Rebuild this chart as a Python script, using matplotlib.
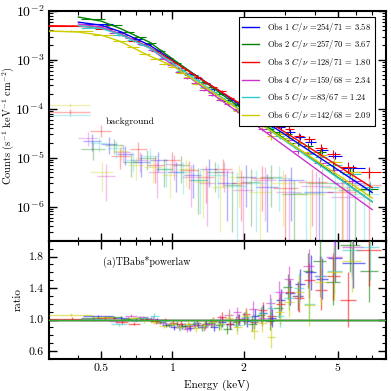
import numpy as np
import matplotlib
matplotlib.use('Agg')
import matplotlib.pyplot as plt
from matplotlib.ticker import FixedLocator, FixedFormatter, LogLocator, MultipleLocator, NullFormatter

plt.rcParams['font.family'] = 'serif'
plt.rcParams['font.serif'] = ['cmr10', 'DejaVu Serif']
plt.rcParams['mathtext.fontset'] = 'cm'
plt.rcParams['axes.formatter.use_mathtext'] = True

colors = ['#0000ff', '#008000', '#ff0000', '#cc33cc', '#33cccc', '#cccc00']
labels = [r'Obs 1 $C/\nu$ =254/71 = 3.58',
          r'Obs 2 $C/\nu$ =257/70 = 3.67',
          r'Obs 3 $C/\nu$ =128/71 = 1.80',
          r'Obs 4 $C/\nu$ =159/68 = 2.34',
          r'Obs 5 $C/\nu$ =83/67 = 1.24',
          r'Obs 6 $C/\nu$ =142/68 = 2.09']

model_e = [0.3, 0.4, 0.5, 0.6, 0.8, 1.0, 1.5, 2.0, 3.0, 5.0, 7.0]
model_start = [0.4, 0.4, 0.3, 0.4, 0.4, 0.3]
model_1 = [5.9e-3, 5.9e-3, 5.1e-3, 3.8e-3, 2.0e-3, 1.0e-3, 2.72e-4, 1.08e-4, 2.95e-5, 5.7e-6, 1.95e-6]
model_2 = [7.5e-3, 7.5e-3, 6.2e-3, 4.4e-3, 2.3e-3, 1.05e-3, 2.57e-4, 9.5e-5, 2.35e-5, 4.0e-6, 1.26e-6]
model_3 = [5.0e-3, 4.9e-3, 4.5e-3, 3.4e-3, 1.8e-3, 9.5e-4, 2.75e-4, 1.15e-4, 3.3e-5, 6.9e-6, 2.45e-6]
model_4 = [5.4e-3, 5.4e-3, 4.7e-3, 3.4e-3, 1.75e-3, 7.9e-4, 1.9e-4, 7.1e-5, 1.7e-5, 2.8e-6, 8.7e-7]
model_5 = [5.0e-3, 5.0e-3, 4.4e-3, 3.3e-3, 1.75e-3, 8.7e-4, 2.2e-4, 8.5e-5, 2.2e-5, 3.9e-6, 1.26e-6]
model_6 = [3.9e-3, 3.7e-3, 3.2e-3, 2.4e-3, 1.2e-3, 7.6e-4, 2.1e-4, 8.3e-5, 2.3e-5, 4.5e-6, 1.5e-6]

# source spectra: bin edges (keV), data/model ratio and its error
edges_1 = [0.42, 0.56, 0.66, 0.74, 0.82, 0.90, 0.98, 1.06, 1.14, 1.23, 1.33, 1.44, 1.56, 1.69,
           1.83, 1.98, 2.14, 2.32, 2.52, 2.75, 3.00, 3.30, 3.65, 4.05, 4.55, 5.20, 6.50]
ratio_1 = [1.04, 1.02, 1.00, 1.01, 0.99, 0.93, 0.90, 0.92, 0.89, 0.93, 0.95, 0.91, 0.97,
           0.94, 1.00, 0.98, 1.04, 1.08, 1.02, 1.25, 1.34, 1.45, 1.60, 1.52, 1.78, 1.72]
rerr_1 = [0.02, 0.02, 0.02, 0.02, 0.03, 0.03, 0.03, 0.04, 0.04, 0.04, 0.05, 0.05, 0.06,
          0.06, 0.07, 0.08, 0.09, 0.10, 0.12, 0.14, 0.16, 0.19, 0.22, 0.26, 0.30, 0.32]

edges_2 = [0.41, 0.52, 0.61, 0.69, 0.77, 0.85, 0.93, 1.01, 1.09, 1.18, 1.28, 1.39, 1.51, 1.64,
           1.78, 1.93, 2.09, 2.27, 2.47, 2.69, 2.94, 3.22, 3.55, 3.95, 4.45, 5.10, 6.20, 7.40]
ratio_2 = [1.02, 1.03, 1.01, 1.02, 1.00, 0.97, 0.93, 0.95, 0.92, 0.94, 0.90, 0.96, 0.93,
           0.88, 0.97, 1.01, 0.95, 1.06, 0.98, 1.15, 1.42, 1.30, 1.62, 1.75, 1.48, 1.95, 1.62]
rerr_2 = [0.02, 0.02, 0.02, 0.02, 0.03, 0.03, 0.03, 0.03, 0.04, 0.04, 0.05, 0.05, 0.06,
          0.06, 0.07, 0.08, 0.09, 0.10, 0.11, 0.13, 0.16, 0.18, 0.22, 0.26, 0.30, 0.35, 0.40]

edges_3 = [0.30, 0.47, 0.57, 0.65, 0.73, 0.81, 0.89, 0.97, 1.05, 1.13, 1.22, 1.32, 1.43, 1.55,
           1.68, 1.82, 1.97, 2.13, 2.31, 2.51, 2.73, 2.98, 3.27, 3.60, 4.00, 4.50, 5.10, 6.00, 7.60]
ratio_3 = [1.01, 1.02, 0.97, 0.95, 1.01, 0.98, 0.99, 0.96, 0.94, 0.92, 0.96, 0.93, 0.98, 1.03,
           0.95, 1.00, 1.07, 0.97, 1.12, 1.05, 1.20, 1.35, 1.28, 1.50, 1.38, 1.55, 1.25, 1.88]
rerr_3 = [0.02, 0.02, 0.02, 0.02, 0.02, 0.03, 0.03, 0.03, 0.04, 0.04, 0.04, 0.05, 0.05, 0.06,
          0.07, 0.07, 0.08, 0.09, 0.10, 0.12, 0.14, 0.16, 0.19, 0.22, 0.26, 0.30, 0.35, 0.45]

edges_4 = [0.40, 0.54, 0.63, 0.71, 0.79, 0.87, 0.95, 1.03, 1.11, 1.20, 1.30, 1.41, 1.53, 1.66,
           1.80, 1.95, 2.11, 2.29, 2.49, 2.71, 2.96, 3.25, 3.58, 3.98, 4.48, 5.20, 6.40]
ratio_4 = [1.00, 0.98, 1.05, 1.03, 1.01, 0.96, 0.94, 0.91, 0.88, 0.93, 0.90, 0.95, 1.00,
           1.06, 1.09, 1.02, 1.14, 1.02, 1.21, 1.35, 1.52, 1.30, 1.68, 1.55, 1.80, 1.92]
rerr_4 = [0.02, 0.02, 0.02, 0.02, 0.03, 0.03, 0.03, 0.04, 0.04, 0.04, 0.05, 0.05, 0.06,
          0.07, 0.07, 0.08, 0.09, 0.10, 0.12, 0.14, 0.16, 0.19, 0.22, 0.26, 0.30, 0.35]

edges_5 = [0.41, 0.55, 0.64, 0.72, 0.80, 0.88, 0.96, 1.04, 1.12, 1.21, 1.31, 1.42, 1.54, 1.67,
           1.81, 1.96, 2.12, 2.30, 2.50, 2.72, 2.97, 3.26, 3.60, 4.00, 4.50, 5.20, 6.30, 7.50]
ratio_5 = [1.01, 0.94, 1.00, 1.02, 1.05, 0.98, 0.95, 0.90, 0.93, 0.96, 0.92, 0.97, 0.95,
           0.99, 0.93, 1.03, 0.98, 1.08, 1.15, 1.05, 1.28, 1.40, 1.20, 1.55, 1.62, 1.88, 1.92]
rerr_5 = [0.02, 0.02, 0.02, 0.02, 0.03, 0.03, 0.03, 0.04, 0.04, 0.04, 0.05, 0.05, 0.06,
          0.07, 0.07, 0.08, 0.09, 0.10, 0.12, 0.14, 0.16, 0.19, 0.22, 0.26, 0.30, 0.36, 0.42]

edges_6 = [0.30, 0.46, 0.56, 0.64, 0.72, 0.80, 0.88, 0.96, 1.04, 1.12, 1.21, 1.31, 1.42, 1.54,
           1.67, 1.81, 1.96, 2.12, 2.30, 2.50, 2.72, 2.97, 3.26, 3.60, 4.00, 4.50, 5.20, 6.30]
ratio_6 = [1.06, 1.03, 1.00, 1.02, 0.99, 0.97, 0.92, 0.94, 0.91, 0.95, 0.89, 0.93, 0.97,
           0.94, 1.02, 0.90, 1.04, 0.85, 0.96, 0.78, 1.10, 1.22, 1.35, 1.18, 1.48, 1.60, 1.75]
rerr_6 = [0.02, 0.02, 0.02, 0.02, 0.03, 0.03, 0.03, 0.04, 0.04, 0.04, 0.05, 0.05, 0.06,
          0.07, 0.07, 0.08, 0.09, 0.10, 0.12, 0.14, 0.16, 0.19, 0.22, 0.26, 0.30, 0.35, 0.40]

# background spectra: bin edges, counts and errors
bg_edges_1 = [0.42, 0.50, 0.58, 0.68, 0.80, 0.95, 1.12, 1.32, 1.55, 1.85, 2.25, 2.80, 3.60, 4.80, 6.50]
bg_1 = [2.2e-5, 1.9e-5, 1.2e-5, 8e-6, 9e-6, 5e-6, 4.5e-6, 6e-6, 3e-6, 4e-6, 2.5e-6, 3.5e-6, 2e-6, 3e-6]
bg_err_1 = [8e-6, 7e-6, 5e-6, 4e-6, 4e-6, 3e-6, 3e-6, 3.5e-6, 2.5e-6, 3e-6, 2.2e-6, 3e-6, 2e-6, 2.8e-6]

bg_edges_2 = [0.41, 0.52, 0.62, 0.72, 0.85, 1.00, 1.18, 1.40, 1.65, 1.95, 2.35, 2.90, 3.70, 5.00, 7.00]
bg_2 = [1.5e-5, 1.8e-5, 8e-6, 1.0e-5, 6e-6, 7e-6, 3.5e-6, 5e-6, 2.8e-6, 3.2e-6, 4e-6, 1.8e-6, 3e-6, 2.2e-6]
bg_err_2 = [6e-6, 6e-6, 4e-6, 4.5e-6, 3.5e-6, 4e-6, 2.8e-6, 3e-6, 2.5e-6, 2.8e-6, 3e-6, 1.7e-6, 2.8e-6, 2e-6]

bg_edges_3 = [0.30, 0.45, 0.55, 0.66, 0.78, 0.92, 1.08, 1.28, 1.50, 1.78, 2.15, 2.65, 3.40, 4.50, 6.00, 7.60]
bg_3 = [8.7e-5, 3.6e-5, 1.1e-5, 1.5e-5, 7e-6, 9e-6, 5.5e-6, 4e-6, 6e-6, 3e-6, 3.8e-6, 2.4e-6, 3.2e-6, 2e-6, 2.8e-6]
bg_err_3 = [1e-5, 1e-5, 5e-6, 6e-6, 4e-6, 4e-6, 3.2e-6, 2.8e-6, 3.5e-6, 2.5e-6, 3e-6, 2.2e-6, 2.8e-6, 1.9e-6, 2.6e-6]

bg_edges_4 = [0.40, 0.48, 0.57, 0.67, 0.79, 0.93, 1.10, 1.30, 1.52, 1.80, 2.20, 2.75, 3.50, 4.70, 6.40]
bg_4 = [2.5e-5, 4.3e-6, 1.3e-5, 9e-6, 5e-6, 7.5e-6, 4e-6, 3e-6, 5e-6, 2.2e-6, 3.5e-6, 2e-6, 2.6e-6, 1.6e-6]
bg_err_4 = [8e-6, 3e-6, 5e-6, 4e-6, 3.5e-6, 4e-6, 3e-6, 2.6e-6, 3e-6, 2e-6, 3e-6, 1.9e-6, 2.4e-6, 1.5e-6]

bg_edges_5 = [0.30, 0.45, 0.53, 0.63, 0.74, 0.87, 1.02, 1.20, 1.42, 1.70, 2.05, 2.50, 3.20, 4.20, 5.60, 7.50]
bg_5 = [7.6e-5, 2.0e-5, 1.6e-5, 9e-6, 1.1e-5, 6e-6, 5e-6, 3.5e-6, 4.5e-6, 2.6e-6, 3e-6, 3.8e-6, 1.9e-6, 2.5e-6, 1.8e-6]
bg_err_5 = [8e-6, 7e-6, 6e-6, 4e-6, 4.5e-6, 3.5e-6, 3.2e-6, 2.8e-6, 3e-6, 2.4e-6, 2.7e-6, 3e-6, 1.8e-6, 2.4e-6, 1.7e-6]

bg_edges_6 = [0.30, 0.45, 0.56, 0.65, 0.76, 0.90, 1.05, 1.24, 1.46, 1.74, 2.10, 2.60, 3.30, 4.40, 6.30]
bg_6 = [1.2e-4, 5e-6, 1.4e-5, 7e-6, 6.5e-6, 4.5e-6, 6e-6, 3.2e-6, 2.5e-6, 4e-6, 2e-6, 3e-6, 1.8e-6, 2.4e-6]
bg_err_6 = [1.2e-5, 3e-6, 5e-6, 3.5e-6, 3.5e-6, 3e-6, 3.5e-6, 2.6e-6, 2.2e-6, 3e-6, 1.9e-6, 2.6e-6, 1.7e-6, 2.2e-6]

models = [model_1, model_2, model_3, model_4, model_5, model_6]
edges = [edges_1, edges_2, edges_3, edges_4, edges_5, edges_6]
ratios = [ratio_1, ratio_2, ratio_3, ratio_4, ratio_5, ratio_6]
rerrs = [rerr_1, rerr_2, rerr_3, rerr_4, rerr_5, rerr_6]
bg_edges = [bg_edges_1, bg_edges_2, bg_edges_3, bg_edges_4, bg_edges_5, bg_edges_6]
bgs = [bg_1, bg_2, bg_3, bg_4, bg_5, bg_6]
bg_errs = [bg_err_1, bg_err_2, bg_err_3, bg_err_4, bg_err_5, bg_err_6]

fig = plt.figure(figsize=(3.91, 3.91), dpi=100)
ax1 = fig.add_axes([0.125, 0.384, 0.862, 0.588])
ax2 = fig.add_axes([0.125, 0.082, 0.862, 0.302], sharex=ax1)

me = np.array(model_e)
for i in range(6):
    c = colors[i]
    ed = np.array(edges[i])
    lo, hi = ed[:-1], ed[1:]
    cen = np.sqrt(lo * hi)
    r = np.array(ratios[i])
    re = np.array(rerrs[i])
    # model value at each bin centre, ratio = data / model
    mod = 10 ** np.interp(np.log10(cen), np.log10(me), np.log10(models[i]))
    ax1.errorbar(cen, r * mod, xerr=[cen - lo, hi - cen], yerr=re * mod,
                 fmt='none', ecolor=c, elinewidth=0.8, zorder=3)
    ax2.errorbar(cen, r, xerr=[cen - lo, hi - cen], yerr=re,
                 fmt='none', ecolor=c, elinewidth=1.0, alpha=0.55, zorder=3)

    be = np.array(bg_edges[i])
    blo, bhi = be[:-1], be[1:]
    bcen = np.sqrt(blo * bhi)
    ax1.errorbar(bcen, bgs[i], xerr=[bcen - blo, bhi - bcen], yerr=bg_errs[i],
                 fmt='none', ecolor=c, elinewidth=1.0, alpha=0.3, zorder=2)

    keep = me >= model_start[i] - 1e-9
    ax1.plot(me[keep], np.array(models[i])[keep], color=c, lw=1.0, label=labels[i], zorder=4)
    ax2.axhline(1.0, color=c, lw=1.0, alpha=0.5, zorder=1)

ax2.axhline(1.0, color='#33aa33', lw=1.0, zorder=4)

ax1.set_xscale('log')
ax1.set_yscale('log')
ax1.set_xlim(0.3, 8.0)
ax1.set_ylim(2e-7, 1e-2)
ax2.set_ylim(0.5, 2.0)

ax1.set_ylabel(r'Counts (s$^{-1}$ keV$^{-1}$ cm$^{-2}$)', fontsize=7.5)
ax2.set_ylabel('ratio', fontsize=8)
ax2.set_xlabel('Energy (keV)', fontsize=8)
ax1.yaxis.set_label_coords(-0.098, 0.5)
ax2.yaxis.set_label_coords(-0.078, 0.5)
ax2.xaxis.set_label_coords(0.5, -0.175)

ax1.yaxis.set_major_locator(LogLocator(base=10, numticks=10))
ax1.yaxis.set_minor_locator(LogLocator(base=10, subs=np.arange(2, 10), numticks=20))
ax1.yaxis.set_minor_formatter(NullFormatter())

ax2.xaxis.set_major_locator(FixedLocator([0.5, 1, 2, 5]))
ax2.xaxis.set_major_formatter(FixedFormatter(['0.5', '1', '2', '5']))
ax2.xaxis.set_minor_locator(FixedLocator([0.3, 0.4, 0.6, 0.7, 0.8, 0.9, 3, 4, 6, 7, 8]))
ax2.xaxis.set_minor_formatter(NullFormatter())
ax2.yaxis.set_major_locator(FixedLocator([0.6, 1.0, 1.4, 1.8]))
ax2.yaxis.set_major_formatter(FixedFormatter(['0.6', '1.0', '1.4', '1.8']))
ax2.yaxis.set_minor_locator(MultipleLocator(0.1))
plt.setp(ax1.get_xticklabels(), visible=False)

for ax in (ax1, ax2):
    ax.tick_params(which='both', direction='in', top=True, right=True)
    ax.tick_params(which='major', length=6, width=1.0, labelsize=8.5)
    ax.tick_params(which='minor', length=3, width=0.8)
    for s in ax.spines.values():
        s.set_linewidth(1.5)
ax1.tick_params(which='major', labelsize=10)

ax1.text(0.52, 5.5e-5, 'background', fontsize=7, va='center')
ax2.text(0.51, 1.74, '(a)TBabs*powerlaw', fontsize=7.2, va='center')

leg = ax1.legend(loc='upper right', bbox_to_anchor=(0.98, 0.992), fontsize=6.2,
                 fancybox=False, edgecolor='black', framealpha=1, handlelength=2.0,
                 borderpad=0.4, labelspacing=0.55, handletextpad=0.9)
leg.get_frame().set_linewidth(0.8)

plt.savefig('out.png', dpi=100)
